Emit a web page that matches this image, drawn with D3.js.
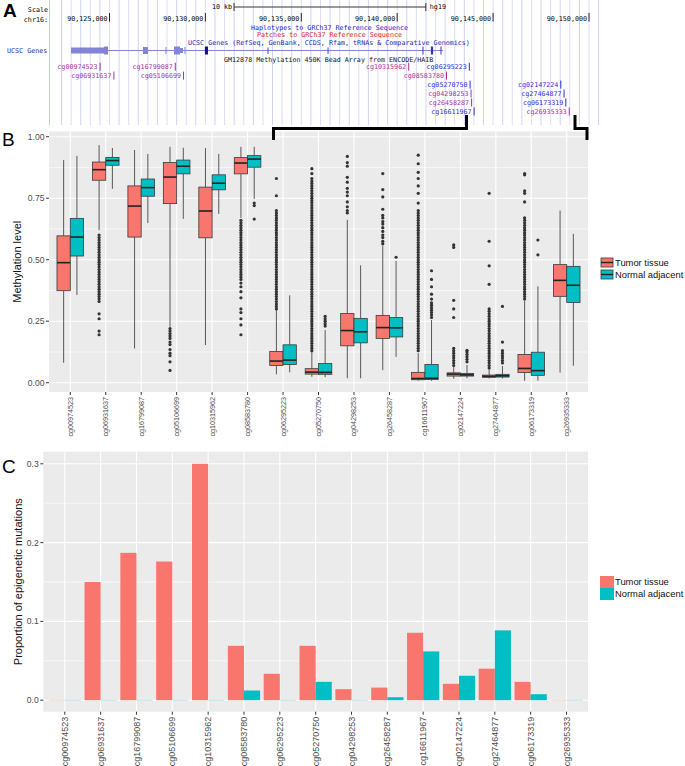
<!DOCTYPE html>
<html><head><meta charset="utf-8">
<script src="https://cdn.jsdelivr.net/npm/d3@7"></script>
<style>
body{margin:0;background:#fff}
svg{display:block}
text{font-family:"Liberation Sans",Arial,sans-serif}
.mono{font-family:"DejaVu Sans Mono",monospace}
</style>
</head><body>
<svg id="c" width="685" height="766"></svg>
<script>
// ---------------- DATA ----------------
const categories = ["cg00974523","cg06931637","cg16799087","cg05106699","cg10315962","cg08583780","cg06295223","cg05270750","cg04298253","cg26458287","cg16611967","cg02147224","cg27464877","cg06173319","cg26935333"];
const seriesNames = ["Tumor tissue","Normal adjacent"];
const seriesColors = ["#F8766D","#00BFC4"];

// box stats: [lower whisker, Q1, median, Q3, upper whisker]
const tumorBox = [
 [0.081,0.374,0.488,0.597,0.905],
 [0.62,0.823,0.866,0.897,0.966],
 [0.139,0.592,0.718,0.800,0.946],
 [0.227,0.728,0.836,0.895,0.959],
 [0.153,0.589,0.698,0.795,0.954],
 [0.67,0.849,0.893,0.915,0.959],
 [0.034,0.070,0.088,0.127,0.295],
 [0.024,0.035,0.043,0.057,0.125],
 [0.018,0.150,0.212,0.281,0.662],
 [0.051,0.180,0.224,0.273,0.558],
 [0.008,0.012,0.017,0.042,0.120],
 [0.016,0.027,0.035,0.040,0.065],
 [0.017,0.022,0.026,0.031,0.055],
 [0.008,0.041,0.058,0.115,0.332],
 [0.041,0.351,0.416,0.480,0.700]
];
const normalBox = [
 [0.357,0.515,0.592,0.668,0.922],
 [0.788,0.884,0.903,0.916,0.954],
 [0.649,0.758,0.793,0.828,0.930],
 [0.666,0.849,0.880,0.905,0.955],
 [0.686,0.784,0.811,0.845,0.930],
 [0.747,0.876,0.909,0.923,0.959],
 [0.042,0.074,0.092,0.154,0.355],
 [0.022,0.034,0.042,0.078,0.214],
 [0.018,0.162,0.207,0.261,0.477],
 [0.105,0.186,0.223,0.265,0.495],
 [0.008,0.013,0.018,0.074,0.255],
 [0.018,0.027,0.032,0.038,0.072],
 [0.017,0.023,0.028,0.034,0.068],
 [0.008,0.030,0.049,0.124,0.392],
 [0.069,0.326,0.396,0.473,0.605]
];
const tumorOutliers = [
 [],
 [0.60,0.59,0.58,0.57,0.56,0.55,0.54,0.53,0.52,0.51,0.50,0.49,0.48,0.47,0.46,0.45,0.44,0.43,0.42,0.41,0.40,0.39,0.38,0.37,0.36,0.35,0.34,0.33,0.28,0.26,0.21,0.195],
 [],
 [0.22,0.21,0.20,0.19,0.18,0.165,0.155,0.135,0.12,0.11,0.085,0.05],
 [],
 [0.66,0.65,0.64,0.63,0.62,0.61,0.60,0.59,0.58,0.57,0.56,0.55,0.54,0.53,0.52,0.51,0.50,0.49,0.48,0.47,0.46,0.45,0.44,0.43,0.42,0.405,0.39,0.37,0.345,0.30,0.285,0.26,0.235,0.195],
 [0.30,0.31,0.32,0.33,0.34,0.35,0.36,0.37,0.38,0.39,0.40,0.41,0.42,0.43,0.44,0.45,0.46,0.47,0.48,0.49,0.50,0.51,0.52,0.53,0.54,0.55,0.56,0.57,0.58,0.59,0.60,0.61,0.62,0.63,0.64,0.65,0.66,0.67,0.68,0.69,0.70,0.76,0.83],
 [0.13,0.14,0.15,0.16,0.17,0.18,0.19,0.20,0.21,0.22,0.23,0.24,0.25,0.26,0.27,0.28,0.29,0.30,0.31,0.32,0.33,0.34,0.35,0.36,0.37,0.38,0.39,0.40,0.41,0.42,0.43,0.44,0.45,0.46,0.47,0.48,0.49,0.50,0.51,0.52,0.53,0.54,0.55,0.56,0.57,0.58,0.59,0.60,0.61,0.62,0.63,0.64,0.65,0.66,0.67,0.68,0.69,0.70,0.71,0.72,0.73,0.74,0.75,0.76,0.77,0.78,0.79,0.80,0.81,0.82,0.83,0.85,0.87],
 [0.69,0.70,0.715,0.735,0.76,0.775,0.79,0.815,0.835,0.88,0.895,0.92],
 [0.565,0.575,0.59,0.60,0.615,0.63,0.645,0.655,0.67,0.68,0.705,0.755,0.785,0.85],
 [0.13,0.14,0.15,0.16,0.17,0.18,0.19,0.20,0.21,0.22,0.23,0.24,0.25,0.26,0.27,0.28,0.29,0.30,0.31,0.32,0.33,0.34,0.35,0.36,0.37,0.38,0.39,0.40,0.41,0.42,0.43,0.44,0.45,0.46,0.47,0.48,0.49,0.50,0.51,0.52,0.53,0.54,0.55,0.56,0.57,0.58,0.59,0.60,0.61,0.62,0.63,0.64,0.65,0.66,0.67,0.68,0.69,0.70,0.73,0.77,0.80,0.83,0.855,0.89,0.925],
 [0.07,0.08,0.09,0.10,0.11,0.12,0.13,0.14,0.265,0.30,0.335,0.55,0.56],
 [0.06,0.07,0.08,0.09,0.10,0.11,0.12,0.13,0.14,0.15,0.16,0.17,0.18,0.19,0.20,0.21,0.22,0.23,0.24,0.25,0.26,0.27,0.28,0.29,0.30,0.40,0.475,0.575,0.77],
 [0.34,0.35,0.36,0.37,0.38,0.39,0.40,0.41,0.42,0.43,0.44,0.45,0.46,0.47,0.48,0.49,0.50,0.51,0.52,0.53,0.54,0.55,0.56,0.57,0.58,0.59,0.60,0.61,0.62,0.63,0.64,0.65,0.66,0.67,0.735,0.77,0.78,0.845,0.85],
 []
];
const normalOutliers = [
 [],[],[],[],[],
 [0.73,0.72,0.665],
 [],
 [0.23,0.24,0.25,0.26,0.27],
 [],
 [0.51],
 [0.265,0.275,0.285,0.295,0.305,0.315,0.325,0.34,0.36,0.39,0.42,0.455],
 [0.085,0.095,0.105,0.115,0.125,0.132],
 [0.08,0.09,0.10,0.11,0.12,0.13,0.165,0.31],
 [0.52,0.58],
 []
];
const methTicks = [0,0.25,0.5,0.75,1];
const methTickLabels = ["0.00","0.25","0.50","0.75","1.00"];
const methMinor = [0.125,0.375,0.625,0.875];

const tumorProp  = [0,0.150,0.187,0.176,0.300,0.069,0.0335,0.069,0.014,0.016,0.0856,0.0208,0.040,0.0233,0];
const normalProp = [0,0,0,0,0,0.0123,0,0.0233,0,0.0038,0.0619,0.031,0.0886,0.0076,0];
const propTicks = [0,0.1,0.2,0.3];
const propTickLabels = ["0.0","0.1","0.2","0.3"];
const propMinor = [0.05,0.15,0.25];

// Panel A (genome browser) data
const coordTicks = [90125000,90130000,90135000,90140000,90145000,90150000];
const coordLabels = ["90,125,000","90,130,000","90,135,000","90,140,000","90,145,000","90,150,000"];
const scaleBar = [90131520,90141520];
const probeNames = ["cg00974523","cg06931637","cg16799087","cg05106699","cg10315962","cg06295223","cg08583780","cg05270750","cg04298253","cg26458287","cg16611967","cg02147224","cg27464877","cg06173319","cg26935333"];
const probePos = [90124510,90125230,90128430,90128860,90140600,90143760,90142570,90143800,90143850,90143880,90144010,90148530,90148700,90148790,90148970];
const probeRow = [0,1,0,1,0,0,1,2,3,4,5,2,3,4,5];
const probeHigh = [1,1,1,1,1,0,1,0,1,1,0,0,0,0,1]; // 1 = purple, 0 = blue
const exonBlocks = [[90123020,90124740,6],[90124740,90124950,8],[90126770,90127030,7],[90128390,90128700,8],[90128700,90128860,5]];
const geneTicks = [90127970,90128960];
const geneSpan = [90123020,90142420];
const arrayTicks = [90133290,90136420];
const arrayBrackets = [90141370,90141840,90142310];
const navyBlock = [90130000,90130160];

// ---------------- DRAW ----------------
const svg = d3.select("#c");
svg.append("rect").attr("width",685).attr("height",766).attr("fill","#fff");

// ===== Panel A =====
const gx = d3.scaleLinear().domain([90125000,90150000]).range([109,588.5]);
const A = svg.append("g");
const gridPos = d3.range(90122500, 90150600, 500);
A.selectAll("line.vg").data(gridPos).join("line")
  .attr("x1",d=>gx(d)+0.5).attr("x2",d=>gx(d)+0.5).attr("y1",0).attr("y2",125)
  .attr("stroke",(d,i)=> i%2 ? "#dcdcf6" : "#cfd3f3").attr("stroke-width",1);
A.append("line").attr("x1",49.5).attr("x2",49.5).attr("y1",0).attr("y2",125).attr("stroke","#f4b8b8");

const mono = (sel)=>sel.attr("class","mono").attr("font-size",6.7);
A.append("text").attr("x",3).attr("y",17).attr("font-size",19).attr("font-weight","bold").text("A");
mono(A.append("text")).attr("x",48).attr("y",11.5).attr("text-anchor","end").text("Scale");
mono(A.append("text")).attr("x",48).attr("y",21.5).attr("text-anchor","end").text("chr16:");
// scale bar
const sb0 = gx(scaleBar[0]), sb1 = gx(scaleBar[1]);
mono(A.append("text")).attr("x",sb0-2).attr("y",9.3).attr("text-anchor","end").text("10 kb");
A.append("line").attr("x1",sb0).attr("x2",sb1).attr("y1",7).attr("y2",7).attr("stroke","#333").attr("stroke-width",1);
[sb0,sb1].forEach(x=>A.append("line").attr("x1",x).attr("x2",x).attr("y1",3).attr("y2",11).attr("stroke","#333"));
mono(A.append("text")).attr("x",sb1+4).attr("y",9.3).text("hg19");
// coordinates
coordTicks.forEach((p,i)=>{
  mono(A.append("text")).attr("x",gx(p)-1.5).attr("y",21).attr("text-anchor","end").text(coordLabels[i]);
  A.append("line").attr("x1",gx(p)+0.5).attr("x2",gx(p)+0.5).attr("y1",13).attr("y2",21.5).attr("stroke","#222");
});
mono(A.append("text")).attr("x",329.5).attr("y",29.5).attr("text-anchor","middle").attr("fill","#1a1ad0").text("Haplotypes to GRCh37 Reference Sequence");
mono(A.append("text")).attr("x",329.5).attr("y",37).attr("text-anchor","middle").attr("fill","#d01a1a").text("Patches to GRCh37 Reference Sequence");
mono(A.append("text")).attr("x",188).attr("y",45.3).attr("fill","#1c1cb0").text("UCSC Genes (RefSeq, GenBank, CCDS, Rfam, tRNAs & Comparative Genomics)");
mono(A.append("text")).attr("x",7).attr("y",53.3).attr("fill","#2a2aa0").text("UCSC Genes");
// gene model
const geneCol = "#8484d6";
A.append("line").attr("x1",gx(geneSpan[0])).attr("x2",gx(geneSpan[1])).attr("y1",50.5).attr("y2",50.5).attr("stroke",geneCol).attr("stroke-width",1);
exonBlocks.forEach(b=>{
  A.append("rect").attr("x",gx(b[0])).attr("width",gx(b[1])-gx(b[0])).attr("y",50.5-b[2]/2).attr("height",b[2]).attr("fill",geneCol);
});
geneTicks.forEach(p=>A.append("line").attr("x1",gx(p)).attr("x2",gx(p)).attr("y1",47).attr("y2",54).attr("stroke",geneCol).attr("stroke-width",1));
A.append("rect").attr("x",gx(navyBlock[0])).attr("width",gx(navyBlock[1])-gx(navyBlock[0])).attr("y",46.5).attr("height",8).attr("fill","#151575");
arrayTicks.forEach(p=>A.append("line").attr("x1",gx(p)).attr("x2",gx(p)).attr("y1",47.5).attr("y2",54).attr("stroke","#4a4ac0").attr("stroke-width",1));
arrayBrackets.forEach((p,i)=>{
  A.append("line").attr("x1",gx(p)).attr("x2",gx(p)).attr("y1",46.5).attr("y2",54.5).attr("stroke","#3434b0").attr("stroke-width",i==1?2.2:1);
});
mono(A.append("text")).attr("x",224).attr("y",61.5).attr("fill","#111").text("GM12878 Methylation 450K Bead Array from ENCODE/HAIB");
// probes
probeNames.forEach((n,i)=>{
  const x = gx(probePos[i]), yc = 66.7 + probeRow[i]*8.95;
  const col = probeHigh[i] ? "#a2309c" : "#2c2ce0";
  mono(A.append("text")).attr("x",x-2).attr("y",yc+2.5).attr("text-anchor","end").attr("fill",col).text(n);
  A.append("line").attr("x1",x+0.5).attr("x2",x+0.5).attr("y1",yc-4).attr("y2",yc+4).attr("stroke",col).attr("stroke-width",1);
});

// ===== Panel B =====
const bL=49, bR=588, bT=131.5, bB=392;
const xB = d3.scalePoint().domain(categories).range([bL,bR]).padding(0.6);
const yB = d3.scaleLinear().domain([0,1]).range([382.7,136.7]);
const B = svg.append("g");
B.append("rect").attr("x",bL).attr("y",bT).attr("width",bR-bL).attr("height",bB-bT).attr("fill","#EBEBEB");
B.selectAll("line.mn").data(methMinor).join("line").attr("x1",bL).attr("x2",bR).attr("y1",d=>yB(d)).attr("y2",d=>yB(d)).attr("stroke","#fff").attr("stroke-width",0.6);
B.selectAll("line.mj").data(methTicks).join("line").attr("x1",bL).attr("x2",bR).attr("y1",d=>yB(d)).attr("y2",d=>yB(d)).attr("stroke","#fff").attr("stroke-width",1.1);
B.selectAll("line.vx").data(categories).join("line").attr("x1",d=>xB(d)).attr("x2",d=>xB(d)).attr("y1",bT).attr("y2",bB).attr("stroke","#fff").attr("stroke-width",1.1);

const step = xB.step();
const bw = 0.375*step;
[[tumorBox,tumorOutliers],[normalBox,normalOutliers]].forEach(([boxes,outs],s)=>{
  boxes.forEach((b,i)=>{
    const cx = xB(categories[i]) + (s===0 ? -bw/2 : bw/2);
    const g = B.append("g");
    g.append("line").attr("x1",cx).attr("x2",cx).attr("y1",yB(b[0])).attr("y2",yB(b[1])).attr("stroke","#333").attr("stroke-width",0.8);
    g.append("line").attr("x1",cx).attr("x2",cx).attr("y1",yB(b[3])).attr("y2",yB(b[4])).attr("stroke","#333").attr("stroke-width",0.8);
    g.append("rect").attr("x",cx-bw/2).attr("width",bw).attr("y",yB(b[3])).attr("height",Math.max(yB(b[1])-yB(b[3]),0.5))
      .attr("fill",seriesColors[s]).attr("stroke","#3a3a3a").attr("stroke-width",0.8);
    g.append("line").attr("x1",cx-bw/2).attr("x2",cx+bw/2).attr("y1",yB(b[2])).attr("y2",yB(b[2])).attr("stroke","#222").attr("stroke-width",1.6);
    g.selectAll("circle").data(outs[i]).join("circle").attr("cx",cx).attr("cy",d=>yB(d)).attr("r",1.6).attr("fill","#333");
  });
});
// axes B
B.selectAll("line.yt").data(methTicks).join("line").attr("x1",bL-3).attr("x2",bL).attr("y1",d=>yB(d)).attr("y2",d=>yB(d)).attr("stroke","#333").attr("stroke-width",1);
B.selectAll("text.yl").data(methTicks).join("text").attr("x",bL-4.5).attr("y",d=>yB(d)).attr("dy","0.35em").attr("text-anchor","end")
  .attr("font-size",8.6).attr("fill","#4d4d4d").text((d,i)=>methTickLabels[i]);
B.selectAll("line.xt").data(categories).join("line").attr("x1",d=>xB(d)).attr("x2",d=>xB(d)).attr("y1",bB).attr("y2",bB+3).attr("stroke","#333").attr("stroke-width",1);
B.selectAll("text.xl").data(categories).join("text")
  .attr("transform",d=>`translate(${xB(d)},${bB+5}) rotate(-90)`).attr("dy","0.35em").attr("text-anchor","end")
  .attr("font-size",7.2).attr("fill","#4d4d4d").text(d=>d);
B.append("text").attr("transform",`translate(17,${(bT+bB)/2}) rotate(-90)`).attr("dy","0.35em").attr("text-anchor","middle").attr("font-size",11).attr("fill","#111").text("Methylation level");
B.append("text").attr("x",2).attr("y",146).attr("font-size",19).text("B");
// legend B
seriesNames.forEach((n,s)=>{
  const y0 = 258 + s*12;
  B.append("rect").attr("x",601).attr("y",y0).attr("width",12).attr("height",9).attr("fill",seriesColors[s]).attr("stroke","#3a3a3a").attr("stroke-width",0.8);
  B.append("line").attr("x1",601).attr("x2",613).attr("y1",y0+4.5).attr("y2",y0+4.5).attr("stroke","#222").attr("stroke-width",1.4);
  B.append("text").attr("x",615).attr("y",y0+4.5).attr("dy","0.35em").attr("font-size",9.4).attr("fill","#111").text(n);
});

// brackets
svg.append("path").attr("d",`M${273.5},140 V128.5 H466.5 V115`).attr("fill","none").attr("stroke","#000").attr("stroke-width",3);
svg.append("path").attr("d",`M575,115 V128.5 H587 V140`).attr("fill","none").attr("stroke","#000").attr("stroke-width",3);

// ===== Panel C =====
const cL=43.3, cR=588, cT=451.7, cB=711.7;
const xC = d3.scalePoint().domain(categories).range([cL,cR]).padding(0.6);
const yC = d3.scaleLinear().domain([0,0.3]).range([700.2,463.8]);
const C = svg.append("g");
C.append("rect").attr("x",cL).attr("y",cT).attr("width",cR-cL).attr("height",cB-cT).attr("fill","#EBEBEB");
C.selectAll("line.mn").data(propMinor).join("line").attr("x1",cL).attr("x2",cR).attr("y1",d=>yC(d)).attr("y2",d=>yC(d)).attr("stroke","#fff").attr("stroke-width",0.6);
C.selectAll("line.mj").data(propTicks).join("line").attr("x1",cL).attr("x2",cR).attr("y1",d=>yC(d)).attr("y2",d=>yC(d)).attr("stroke","#fff").attr("stroke-width",1.1);
C.selectAll("line.vx").data(categories).join("line").attr("x1",d=>xC(d)).attr("x2",d=>xC(d)).attr("y1",cT).attr("y2",cB).attr("stroke","#fff").attr("stroke-width",1.1);
const cbw = 0.45*xC.step();
[tumorProp,normalProp].forEach((vals,s)=>{
  C.selectAll(null).data(vals).join("rect")
    .attr("x",(d,i)=>xC(categories[i]) + (s===0 ? -cbw : 0))
    .attr("width",cbw)
    .attr("y",d=> d>0 ? yC(d) : yC(0)-0.4)
    .attr("height",d=> d>0 ? yC(0)-yC(d) : 0.8)
    .attr("fill",seriesColors[s]).attr("opacity",d=>d>0?1:0.35);
});
C.selectAll("line.yt").data(propTicks).join("line").attr("x1",cL-3).attr("x2",cL).attr("y1",d=>yC(d)).attr("y2",d=>yC(d)).attr("stroke","#333").attr("stroke-width",1);
C.selectAll("text.yl").data(propTicks).join("text").attr("x",cL-4.5).attr("y",d=>yC(d)).attr("dy","0.35em").attr("text-anchor","end")
  .attr("font-size",8.6).attr("fill","#4d4d4d").text((d,i)=>propTickLabels[i]);
C.selectAll("line.xt").data(categories).join("line").attr("x1",d=>xC(d)).attr("x2",d=>xC(d)).attr("y1",cB).attr("y2",cB+3).attr("stroke","#333").attr("stroke-width",1);
C.selectAll("text.xl").data(categories).join("text")
  .attr("transform",d=>`translate(${xC(d)},${cB+5}) rotate(-90)`).attr("dy","0.35em").attr("text-anchor","end")
  .attr("font-size",9).attr("fill","#4d4d4d").text(d=>d);
C.append("text").attr("transform",`translate(18,${(cT+cB)/2}) rotate(-90)`).attr("dy","0.35em").attr("text-anchor","middle").attr("font-size",11).attr("fill","#111").text("Proportion of epigenetic mutations");
C.append("text").attr("x",2).attr("y",473).attr("font-size",19).text("C");
seriesNames.forEach((n,s)=>{
  const y0 = 576 + s*12;
  C.append("rect").attr("x",600).attr("y",y0).attr("width",14).attr("height",12).attr("fill",seriesColors[s]);
  C.append("text").attr("x",615).attr("y",y0+6).attr("dy","0.35em").attr("font-size",9.4).attr("fill","#111").text(n);
});
</script>
</body></html>
